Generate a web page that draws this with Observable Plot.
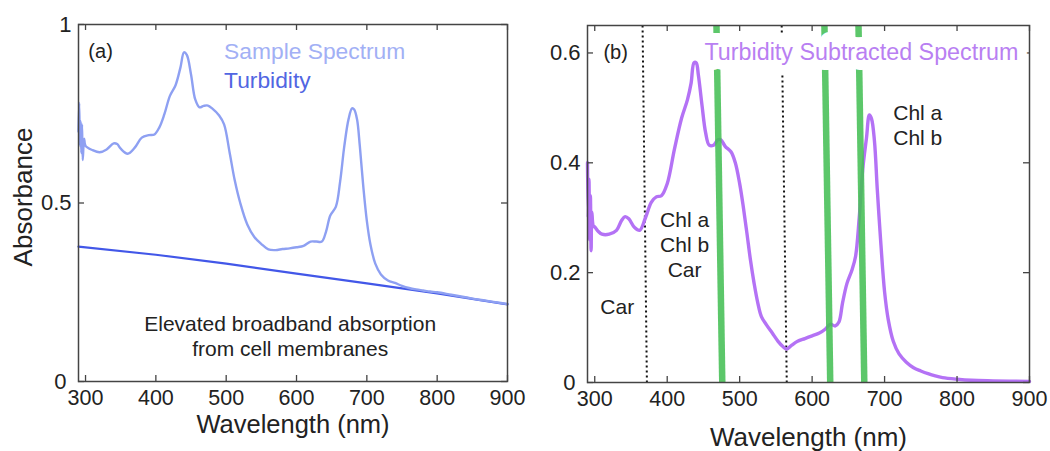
<!DOCTYPE html>
<html>
<head>
<meta charset="utf-8">
<script src="https://cdn.jsdelivr.net/npm/d3@7"></script>
<script src="https://cdn.jsdelivr.net/npm/@observablehq/plot@0.6"></script>
<style>
  body { margin: 0; background: #fff; }
  #wrap { position: relative; width: 1050px; height: 451px; overflow: hidden; font-family: "Liberation Sans", Arial, sans-serif; }
  #wrap svg { position: absolute; top: 0; overflow: visible; }
</style>
</head>
<body>
<div id="wrap"></div>
<script>
// ---------- data ----------
const xTicks = [300, 400, 500, 600, 700, 800, 900];
const yTicksA = [0, 0.5, 1];
const yTicksB = [0, 0.2, 0.4, 0.6];

// Panel (a): sample spectrum
const wlA = [290,291,292,293,294,295,296,298,300,310,320,330,340,345,350,360,370,380,390,398,405,412,420,428,435,440,444,450,456,462,468,474,480,490,497,505,512,520,530,540,550,560,570,580,590,600,610,620,628,636,642,648,656,662,668,674,679,682,686,690,695,700,705,712,720,730,740,750,760,770,780,790,800,820,840,860,880,900];
const sampleA = [0.70,0.78,0.66,0.73,0.64,0.72,0.62,0.68,0.66,0.648,0.642,0.650,0.667,0.665,0.652,0.638,0.655,0.683,0.690,0.692,0.712,0.748,0.800,0.830,0.880,0.922,0.915,0.860,0.790,0.768,0.772,0.773,0.765,0.745,0.720,0.640,0.565,0.500,0.440,0.405,0.385,0.370,0.368,0.371,0.373,0.376,0.380,0.392,0.392,0.392,0.420,0.465,0.490,0.560,0.660,0.735,0.765,0.762,0.735,0.660,0.545,0.450,0.385,0.330,0.300,0.283,0.276,0.268,0.262,0.258,0.255,0.252,0.250,0.243,0.236,0.229,0.223,0.217];

// Panel (a): turbidity
const wlTurb = [290, 400, 500, 600, 700, 800, 900];
const turbidity = [0.378, 0.355, 0.330, 0.302, 0.275, 0.247, 0.216];

// Panel (b): turbidity-subtracted spectrum
const wlB = [290,291,292,293,294,295,296,298,300,305,310,320,330,337,342,347,355,362,370,378,385,392,400,410,420,428,433,437,440,443,448,453,458,464,470,474,480,488,494,500,505,510,515,520,525,530,537,545,553,560,565,572,580,590,600,610,618,625,632,637,642,648,655,660,665,670,675,679,682,686,690,695,700,705,712,720,730,740,750,760,770,780,800,820,850,900];
const subtracted = [0.40,0.30,0.37,0.26,0.34,0.24,0.31,0.285,0.283,0.275,0.270,0.270,0.277,0.295,0.302,0.298,0.282,0.277,0.300,0.328,0.338,0.340,0.362,0.425,0.482,0.515,0.545,0.582,0.582,0.560,0.505,0.455,0.432,0.432,0.442,0.442,0.430,0.420,0.400,0.362,0.320,0.272,0.222,0.180,0.145,0.120,0.105,0.090,0.075,0.065,0.061,0.068,0.075,0.080,0.085,0.090,0.097,0.106,0.103,0.110,0.145,0.180,0.205,0.230,0.300,0.390,0.445,0.487,0.480,0.440,0.350,0.250,0.165,0.115,0.075,0.052,0.037,0.027,0.021,0.016,0.012,0.009,0.006,0.004,0.003,0.002];

// Marker lines in panel (b) (slightly slanted in the original figure)
const greenTop = [468, 617, 664];
const greenBottom = [476, 625, 672];
const dotTop = [366, 558];
const dotBottom = [372, 565];

// Labels
const labelsA = {tag: "(a)", sample: "Sample Spectrum", turb: "Turbidity", note: "Elevated broadband absorption\nfrom cell membranes"};
const labelsB = {tag: "(b)", title: "Turbidity Subtracted Spectrum", red: "Chl a\nChl b", blue: "Chl a\nChl b\nCar", car: "Car"};

// ---------- style ----------
const FONT = "Liberation Sans, Arial, sans-serif";
const cSample = "#8ea0f2", cSampleText = "#a2b0f5";
const cTurb = "#4257e8", cTurbText = "#5166e2";
const cPurple = "#b472f5", cPurpleText = "#b97ff2";
const cGreen = "#45bf55";
const frameColor = "#444";
const TICK = 6;

const yDomA = [0, 1];
const yDomB = [0, 0.65];
const xDom = [290, 900];

const dataA = wlA.map((w, i) => ({w, v: sampleA[i]}));
const dataT = wlTurb.map((w, i) => ({w, v: turbidity[i]}));
const dataB = wlB.map((w, i) => ({w, v: subtracted[i]}));
const greens = greenTop.map((t, i) => ({x1: t, x2: greenBottom[i]}));
const dots = dotTop.map((t, i) => ({x1: t, x2: dotBottom[i]}));

function axes(yTicks, plotW, plotH) {
  return [
    // inward tick marks on all four sides
    Plot.ruleX(xTicks, {x: d => d, insetTop: plotH - TICK, stroke: frameColor, strokeWidth: 1.3}),
    Plot.ruleX(xTicks, {x: d => d, insetBottom: plotH - TICK, stroke: frameColor, strokeWidth: 1.3}),
    Plot.ruleY(yTicks, {y: d => d, insetRight: plotW - TICK, stroke: frameColor, strokeWidth: 1.3}),
    Plot.ruleY(yTicks, {y: d => d, insetLeft: plotW - TICK, stroke: frameColor, strokeWidth: 1.3}),
    // tick labels
    Plot.axisX(xTicks, {anchor: "bottom", tickSize: 0, tickPadding: 8, fontSize: 21.5, fill: "#222", tickFormat: d => String(d)}),
    Plot.axisY(yTicks.filter(d => d !== 0), {anchor: "left", tickSize: 0, tickPadding: 7, fontSize: 22, fill: "#222", tickFormat: d => String(d)}),
    Plot.axisY(yTicks.filter(d => d === 0), {anchor: "left", tickSize: 0, tickPadding: 12, fontSize: 22, fill: "#222", tickFormat: d => String(d)}),
    Plot.frame({stroke: frameColor, strokeWidth: 1.5})
  ];
}

const A = {width: 530, height: 451, marginLeft: 78, marginRight: 23, marginTop: 24, marginBottom: 70};
const plotA = Plot.plot({
  ...A,
  style: {fontFamily: FONT, background: "transparent", overflow: "visible"},
  x: {domain: xDom, label: null},
  y: {domain: yDomA, label: null},
  marks: [
    Plot.line(dataT, {x: "w", y: "v", stroke: cTurb, strokeWidth: 2.2}),
    Plot.line(dataA, {x: "w", y: "v", stroke: cSample, strokeWidth: 2.4, curve: "catmull-rom"}),
    ...axes(yTicksA, A.width - A.marginLeft - A.marginRight, A.height - A.marginTop - A.marginBottom),
    Plot.text([labelsA.tag], {x: 304, y: 0.924, text: d => d, textAnchor: "start", fontSize: 20, fill: "#222"}),
    Plot.text([labelsA.sample], {x: 497, y: 0.924, text: d => d, textAnchor: "start", fontSize: 22.8, fill: cSampleText}),
    Plot.text([labelsA.turb], {x: 497, y: 0.843, text: d => d, textAnchor: "start", fontSize: 22.8, fill: cTurbText}),
    Plot.text([labelsA.note], {x: 591, y: 0.13, text: d => d, fontSize: 21, lineHeight: 1.2, fill: "#222"}),
    Plot.text(["Wavelength (nm)"], {frameAnchor: "bottom", lineAnchor: "middle", textAnchor: "middle", dy: 43, text: d => d, fontSize: 25.5, fill: "#222"}),
    Plot.text(["Absorbance"], {frameAnchor: "left", lineAnchor: "middle", textAnchor: "middle", dx: -55, dy: -6, rotate: -90, text: d => d, fontSize: 26, fill: "#222"})
  ]
});
plotA.style.left = "0px";

const B = {width: 520, height: 451, marginLeft: 57, marginRight: 21, marginTop: 25, marginBottom: 69};
const plotB = Plot.plot({
  ...B,
  style: {fontFamily: FONT, background: "transparent", overflow: "visible"},
  x: {domain: xDom, label: null},
  y: {domain: yDomB, label: null},
  marks: [
    Plot.link(dots, {x1: "x1", x2: "x2", y1: yDomB[1], y2: 0, stroke: "#111", strokeWidth: 2, strokeDasharray: "2,3"}),
    Plot.line(dataB, {x: "w", y: "v", stroke: cPurple, strokeWidth: 3.4, curve: "catmull-rom"}),
    Plot.link(greens, {x1: "x1", x2: "x2", y1: yDomB[1], y2: 0, stroke: cGreen, strokeWidth: 6.5, strokeOpacity: 0.88}),
    ...axes(yTicksB, B.width - B.marginLeft - B.marginRight, B.height - B.marginTop - B.marginBottom),
    Plot.text([labelsB.title], {x: 668, y: 0.6, text: d => d, fontSize: 23.3, fill: cPurpleText, stroke: "white", strokeWidth: 20, paintOrder: "stroke"}),
    Plot.text([labelsB.tag], {x: 312, y: 0.6, text: d => d, textAnchor: "start", fontSize: 20, fill: "#222"}),
    Plot.text([labelsB.red], {x: 712, y: 0.47, text: d => d, textAnchor: "start", fontSize: 21, lineHeight: 1.2, fill: "#222"}),
    Plot.text([labelsB.blue], {x: 424, y: 0.252, text: d => d, fontSize: 21, lineHeight: 1.2, fill: "#222"}),
    Plot.text([labelsB.car], {x: 331, y: 0.137, text: d => d, fontSize: 21, fill: "#222"}),
    Plot.text(["Wavelength (nm)"], {frameAnchor: "bottom", lineAnchor: "middle", textAnchor: "middle", dy: 55, text: d => d, fontSize: 26, fill: "#222"})
  ]
});
plotB.style.left = "530px";

const wrap = document.getElementById("wrap");
wrap.appendChild(plotA);
wrap.appendChild(plotB);
</script>
</body>
</html>
